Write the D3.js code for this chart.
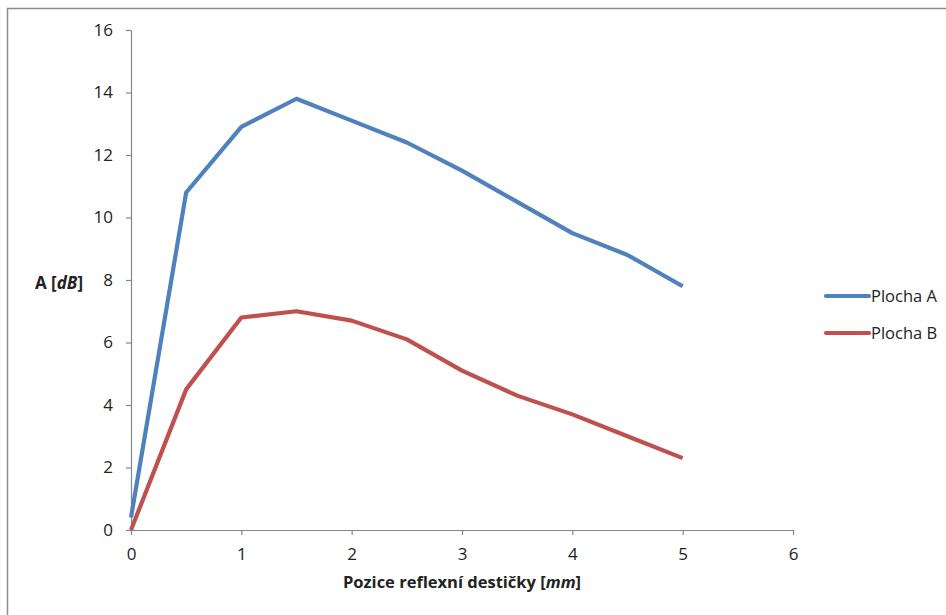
<!DOCTYPE html>
<html>
<head>
<meta charset="utf-8">
<script src="https://cdn.jsdelivr.net/npm/d3@7"></script>
<style>
  html, body { margin: 0; padding: 0; background: #fff; }
  svg { display: block; font-family: "Open Sans", "Liberation Sans", sans-serif; }
</style>
</head>
<body>
<svg id="chart" width="946" height="615"></svg>
<script>
// Measured positions of the reflective plate (mm)
const positions = [0, 0.5, 1, 1.5, 2, 2.5, 3, 3.5, 4, 4.5, 5];
// Attenuation A [dB] for each surface
const plochaA = [0.4, 10.8, 12.9, 13.8, 13.1, 12.4, 11.5, 10.5, 9.5, 8.8, 7.8];
const plochaB = [0, 4.5, 6.8, 7.0, 6.7, 6.1, 5.1, 4.3, 3.7, 3.0, 2.3];
const seriesNames = ["Plocha A", "Plocha B"];
const seriesColors = ["#4F81BD", "#C0504D"];
const xTicks = [0, 1, 2, 3, 4, 5, 6];
const yTicks = [0, 2, 4, 6, 8, 10, 12, 14, 16];

const svg = d3.select("#chart");

// Outer chart frame
svg.append("rect")
  .attr("x", 7.5).attr("y", 8.5)
  .attr("width", 960).attr("height", 640)
  .attr("fill", "none").attr("stroke", "#8c8c8c").attr("stroke-width", 1.5);

const x = d3.scaleLinear().domain([0, 6]).range([131, 793]);
const y = d3.scaleLinear().domain([0, 16]).range([530, 30]);

const axisColor = "#868686";

const xAxis = svg.append("g")
  .attr("transform", `translate(0,${y(0)})`)
  .call(d3.axisBottom(x).tickValues(xTicks).tickSize(5).tickSizeOuter(0).tickPadding(13).tickFormat(d3.format("d")));
const yAxis = svg.append("g")
  .attr("transform", `translate(${x(0)},0)`)
  .call(d3.axisLeft(y).tickValues(yTicks).tickSize(5).tickSizeOuter(0).tickPadding(13).tickFormat(d3.format("d")));

[xAxis, yAxis].forEach(g => {
  g.select(".domain").attr("stroke", axisColor).attr("stroke-width", 1.2);
  g.selectAll(".tick line").attr("stroke", axisColor).attr("stroke-width", 1.2);
  g.selectAll(".tick text").attr("fill", "#222").style("font-size", "17px").style("font-family", "'Open Sans', sans-serif");
});

// Axis titles
const xTitle = svg.append("text")
  .attr("x", 462).attr("y", 588)
  .attr("text-anchor", "middle")
  .style("font-size", "16.5px").style("font-weight", "bold").attr("fill", "#222");
xTitle.append("tspan").text("Pozice reflexní destičky [");
xTitle.append("tspan").style("font-style", "italic").text("mm");
xTitle.append("tspan").text("]");

const yTitle = svg.append("text")
  .attr("x", 59).attr("y", 289)
  .attr("text-anchor", "middle")
  .style("font-size", "17px").style("font-weight", "bold").attr("fill", "#222");
yTitle.append("tspan").text("A [");
yTitle.append("tspan").style("font-style", "italic").text("dB");
yTitle.append("tspan").text("]");

// Series lines
const line = d3.line()
  .x((d, i) => x(positions[i]))
  .y(d => y(d));

[plochaA, plochaB].forEach((vals, i) => {
  svg.append("path")
    .datum(vals)
    .attr("d", line)
    .attr("fill", "none")
    .attr("stroke", seriesColors[i])
    .attr("stroke-width", 4.2)
    .attr("stroke-linejoin", "round")
    .attr("stroke-linecap", "butt");
});

// Legend
const legend = svg.append("g");
seriesNames.forEach((name, i) => {
  const ly = 296 + i * 37;
  legend.append("line")
    .attr("x1", 826).attr("x2", 869)
    .attr("y1", ly).attr("y2", ly)
    .attr("stroke", seriesColors[i]).attr("stroke-width", 4.2).attr("stroke-linecap", "round");
  legend.append("text")
    .attr("x", 871).attr("y", ly + 5.5)
    .style("font-size", "16.5px").attr("fill", "#222")
    .text(name);
});
</script>
</body>
</html>
